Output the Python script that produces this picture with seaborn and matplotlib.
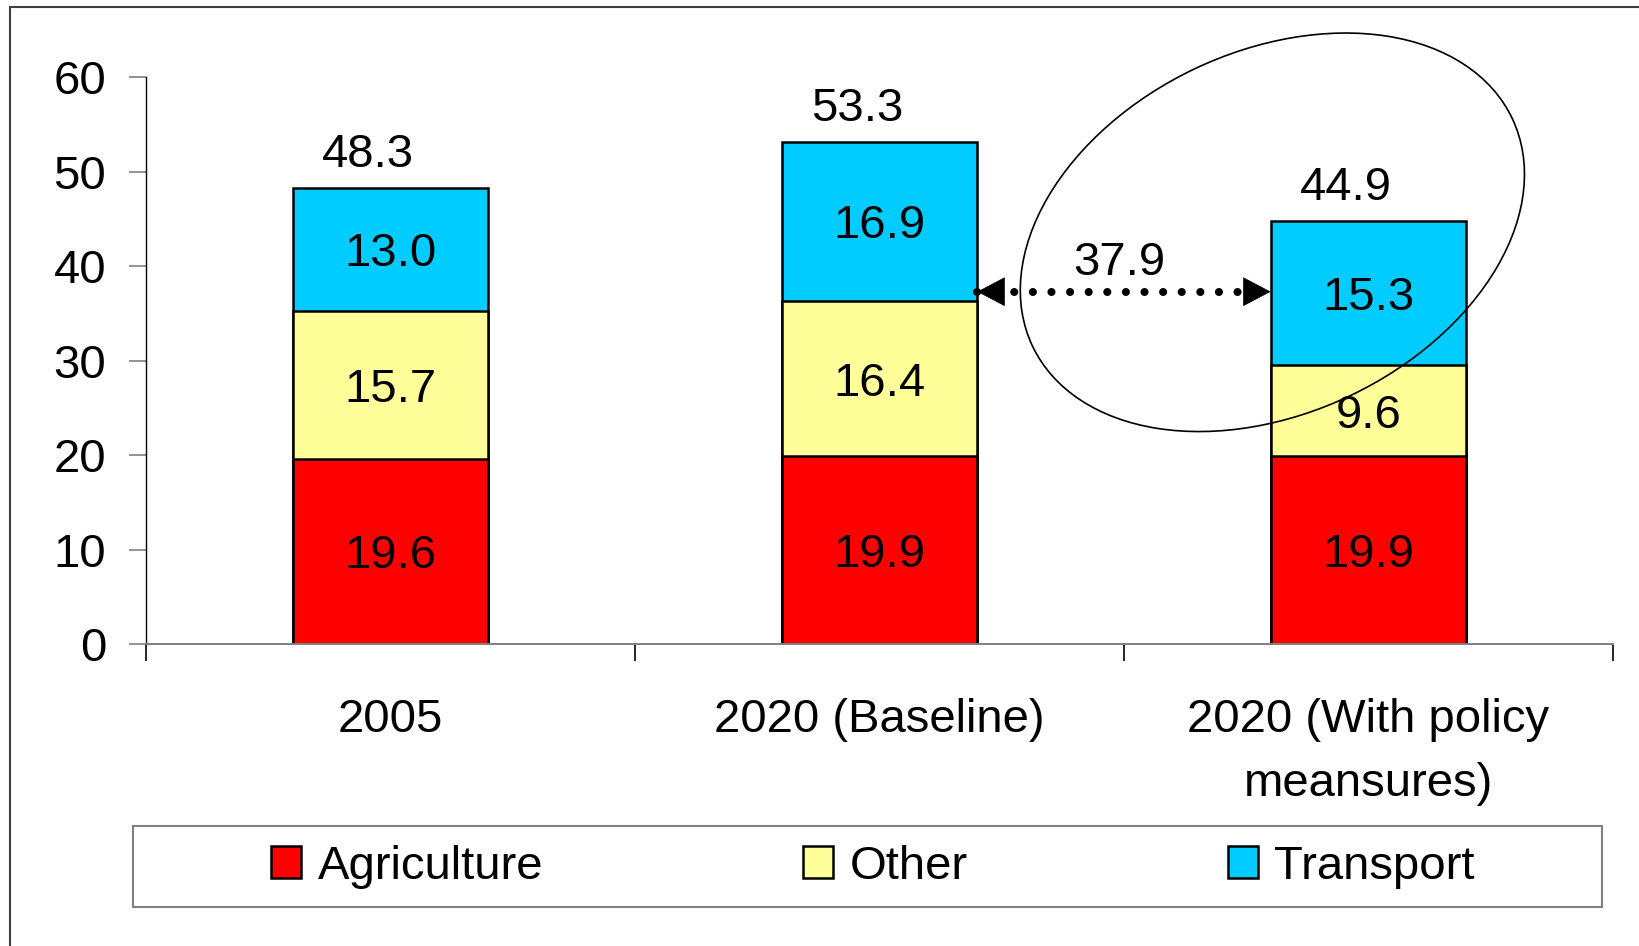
import numpy as np
import pandas as pd
import matplotlib
matplotlib.use('Agg')
import matplotlib.pyplot as plt
import matplotlib.patches as mpatches
from matplotlib.transforms import ScaledTranslation
import seaborn as sns

# Data
scenarios = ['2005', '2020 (Baseline)', '2020 (With policy\nmeansures)']
agriculture = [19.6, 19.9, 19.9]
other = [15.7, 16.4, 9.6]
transport = [13.0, 16.9, 15.3]
totals = [48.3, 53.3, 44.9]
gap_value = 37.9          # shown on the dotted arrow
gap_arrow_y = 37.3        # height of the dotted arrow

sectors = ['Agriculture', 'Other', 'Transport']
colors = {'Agriculture': '#FF0000', 'Other': '#FFFF99', 'Transport': '#00CCFF'}
bar_width = 0.4
font_size = 34

sns.set_theme(style='white')
plt.rcParams['font.family'] = ['Liberation Sans', 'DejaVu Sans']
plt.rcParams['text.color'] = 'black'

# cumulative tops, drawn tallest first so the stack shows through
values = {'Agriculture': agriculture, 'Other': other, 'Transport': transport}
cum = np.cumsum(np.array([agriculture, other, transport]), axis=0)
rows = []
for k, sec in enumerate(sectors):
    for i, sc in enumerate(scenarios):
        rows.append({'scenario': sc, 'sector': sec, 'top': cum[k, i]})
df = pd.DataFrame(rows)

fig = plt.figure(figsize=(16.39, 9.46), dpi=100)
ax = fig.add_axes([0.0891, 0.3192, 0.895, 0.5991])

sns.barplot(data=df, x='scenario', y='top', hue='sector', order=scenarios,
            hue_order=sectors[::-1], palette=colors, dodge=False, width=bar_width,
            saturation=1, edgecolor='black', linewidth=1.8, legend=False, ax=ax,
            zorder=2)

# segment labels
for i in range(len(scenarios)):
    bottom = 0
    for sec in sectors:
        v = values[sec][i]
        ax.text(i, bottom + v / 2, f'{v:.1f}', ha='center', va='center_baseline',
                fontsize=font_size, color='black', zorder=5)
        bottom += v
    ax.annotate(f'{totals[i]:.1f}', xy=(i, cum[-1, i]), xytext=(-16, 27),
                textcoords='offset points', ha='center', va='center_baseline',
                fontsize=font_size, color='black')

# dotted double arrow between baseline and policy bars
x_left = 1 + bar_width / 2
x_right = 2 - bar_width / 2
ax.plot([x_left, x_right], [gap_arrow_y, gap_arrow_y], color='black', lw=5.8,
        linestyle=(0, (0.01, 2.3)), dash_capstyle='round', zorder=6)
head = dict(arrowstyle='-|>,head_length=19,head_width=10', mutation_scale=1,
            fc='black', ec='black', lw=0.5, shrinkA=0, shrinkB=0)
ax.annotate('', xy=(x_left, gap_arrow_y), xytext=(19, 0),
            textcoords='offset points', arrowprops=head, zorder=7)
ax.annotate('', xy=(x_right, gap_arrow_y), xytext=(-19, 0),
            textcoords='offset points', arrowprops=head, zorder=7)
ax.text(1.491, 40.87, f'{gap_value:.1f}', ha='center', va='center_baseline',
        fontsize=font_size, color='black')

# ellipse around the policy scenario
ell_trans = fig.dpi_scale_trans + ScaledTranslation(1.8035, 43.59, ax.transData)
ax.add_patch(mpatches.Ellipse((0, 0), 5.31, 3.62, angle=25.4, fill=False,
                              ec='black', lw=1.2, transform=ell_trans,
                              clip_on=False, zorder=8))

# axes styling
ax.set_xlim(-0.5, 2.5)
ax.set_ylim(0, 60)
ax.set_yticks(range(0, 61, 10))
ax.set_xticks(range(len(scenarios)))
ax.set_xticklabels(scenarios, linespacing=1.58)
ax.set_xticks([-0.5, 0.5, 1.5, 2.5], minor=True)
ax.set_xlabel('')
ax.set_ylabel('')
ax.tick_params(axis='y', which='major', direction='out', length=12.2, width=1.2,
               color='#808080', pad=16.5, labelsize=font_size, labelcolor='black', left=True)
ax.tick_params(axis='x', which='major', length=0, pad=39, labelsize=font_size,
               labelcolor='black')
ax.tick_params(axis='x', which='minor', direction='out', length=12.2, width=1.2,
               color='black', bottom=True)
for s in ['top', 'right']:
    ax.spines[s].set_visible(False)
ax.spines['left'].set_color('black')
ax.spines['left'].set_linewidth(1.0)
ax.spines['bottom'].set_color('#808080')
ax.spines['bottom'].set_linewidth(1.4)

# legend with its own box
handles = [mpatches.Patch(facecolor=colors[s], edgecolor='black', lw=1.8, label=s)
           for s in sectors]
fig.legend(handles=handles, loc='center', bbox_to_anchor=(873 / 1639, 1 - 866.5 / 946),
           ncol=3, frameon=False, fontsize=font_size, labelcolor='black',
           handlelength=0.64, handleheight=0.66, handletextpad=0.35, columnspacing=5.5)
fig.add_artist(mpatches.Rectangle((0.0811, 0.0415), 0.8963, 0.0856, fill=False,
                                  ec='#808080', lw=1.5, transform=fig.transFigure))

# outer chart frame
fig.add_artist(mpatches.Rectangle((0.0063, -0.05), 1.05, 1.0429, fill=False,
                                  ec='#404040', lw=1.5, transform=fig.transFigure))

fig.savefig('out.png', dpi=100)
plt.close(fig)
